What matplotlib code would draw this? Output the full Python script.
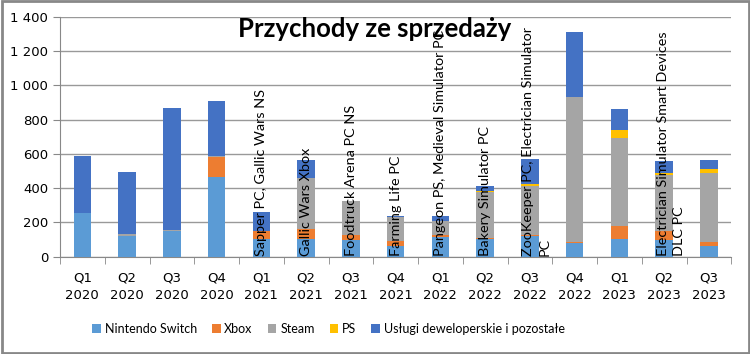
import numpy as np
import matplotlib.pyplot as plt
from matplotlib.ticker import FuncFormatter, MultipleLocator

# data (values in thousands)
quarters = ["Q1\n2020", "Q2\n2020", "Q3\n2020", "Q4\n2020",
            "Q1\n2021", "Q2\n2021", "Q3\n2021", "Q4\n2021",
            "Q1\n2022", "Q2\n2022", "Q3\n2022", "Q4\n2022",
            "Q1\n2023", "Q2\n2023", "Q3\n2023"]
switch = [255, 120, 148, 463, 103, 103, 100, 64, 113, 101, 121, 78, 103, 97, 64]
xbox = [0, 0, 0, 117, 45, 59, 25, 28, 14, 6, 6, 10, 78, 55, 22]
steam = [0, 10, 6, 5, 0, 299, 198, 141, 83, 272, 285, 845, 509, 325, 400]
ps = [0, 0, 0, 0, 0, 0, 0, 0, 0, 6, 14, 0, 49, 11, 27]
uslugi = [332, 362, 712, 323, 113, 101, -8, 6, 27, 27, 142, 376, 121, 72, 49]

series = {
    "Nintendo Switch": (switch, "#5B9BD5"),
    "Xbox": (xbox, "#ED7D31"),
    "Steam": (steam, "#A5A5A5"),
    "PS": (ps, "#FFC000"),
    "Usługi deweloperskie i pozostałe": (uslugi, "#4472C4"),
}

# release notes written inside the bars
notes = {
    4: "Sapper PC, Gallic Wars NS",
    5: "Gallic Wars Xbox",
    6: "Foodtruck Arena PC NS",
    7: "Farming Life PC",
    8: "Pangeon PS, Medieval Simulator PC",
    9: "Bakery Simulator PC",
    10: "ZooKeeper PC, Electrician Simulator\nPC",
    13: "Electrician Simulator Smart Devices\nDLC PC",
}

fig = plt.figure(figsize=(7.5, 3.54), dpi=100)
ax = fig.add_axes([0.08, 0.275, 0.895, 0.678])

x = np.arange(len(quarters))
pos_bottom = np.zeros(len(quarters))
neg_bottom = np.zeros(len(quarters))
for name, (vals, color) in series.items():
    vals = np.array(vals, dtype=float)
    bottom = np.where(vals >= 0, pos_bottom, neg_bottom)
    ax.bar(x, vals, 0.39, bottom=bottom, color=color, label=name, zorder=3)
    pos_bottom += np.where(vals >= 0, vals, 0)
    neg_bottom += np.where(vals < 0, vals, 0)

for i, txt in notes.items():
    dx = 0.15 if "\n" in txt else 0.0
    ax.text(i + dx, 2, txt, rotation=90, ha="center", va="bottom",
            multialignment="left", fontsize=10.4, family="Lato", color="black",
            zorder=5, linespacing=1.45, clip_on=False)

ax.set_xlim(-0.5, len(quarters) - 0.5)
ax.set_ylim(0, 1400)
ax.yaxis.set_major_locator(MultipleLocator(200))
ax.yaxis.set_major_formatter(FuncFormatter(lambda v, p: f"{int(v):,}".replace(",", " ")))
ax.set_xticks(x)
ax.set_xticklabels(quarters, fontsize=9.5, linespacing=1.45)
ax.set_xticks(np.arange(-0.5, len(quarters)), minor=True)
ax.tick_params(axis="x", which="major", length=0, pad=11)
ax.tick_params(axis="x", which="minor", length=5, color="#888888")
ax.tick_params(axis="y", length=5, color="#888888", labelsize=9.5)

ax.grid(axis="y", color="#999999", linewidth=1, zorder=0)
for s in ["top", "right"]:
    ax.spines[s].set_visible(False)
for s in ["left", "bottom"]:
    ax.spines[s].set_color("#888888")

fig.text(0.50, 0.918, "Przychody ze sprzedaży", ha="center", va="center",
         fontsize=18.5, fontweight="bold", family="Lato")

fig.legend(loc="center", bbox_to_anchor=(0.438, 0.07), ncol=5, frameon=False,
           prop={"family": "Lato", "size": 9}, handlelength=0.7,
           handleheight=0.7, handletextpad=0.3, columnspacing=1.2)

fig.patches.append(plt.Rectangle((0.002, 0.003), 0.996, 0.994, transform=fig.transFigure,
                                 fill=False, edgecolor="#888888", linewidth=2))

fig.savefig("out.png", dpi=100)
